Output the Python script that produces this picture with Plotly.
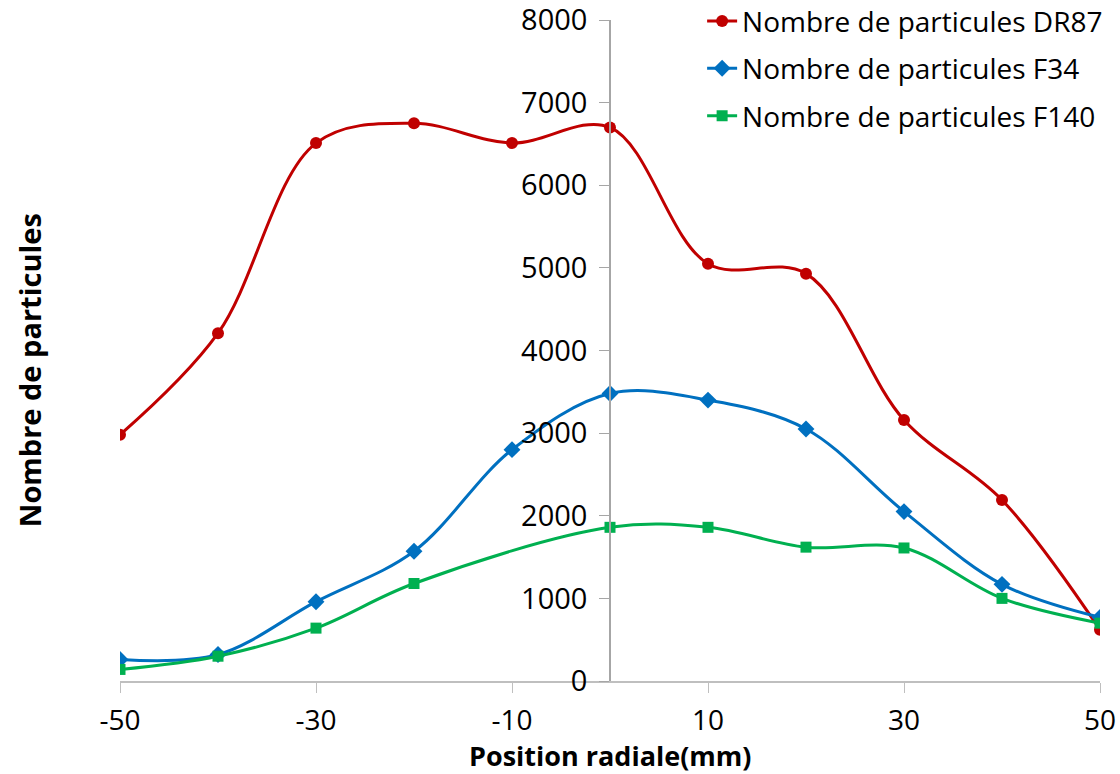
import plotly.graph_objects as go

# Data
positions = [-50, -40, -30, -20, -10, 0, 10, 20, 30, 40, 50]
dr87 = [2980, 4210, 6510, 6750, 6510, 6700, 5050, 4930, 3160, 2190, 620]
f34 = [260, 320, 960, 1570, 2800, 3480, 3400, 3050, 2050, 1170, 770]
# F140 has no point at -10
positions_f140 = [-50, -40, -30, -20, 0, 10, 20, 30, 40, 50]
f140 = [140, 300, 640, 1180, 1860, 1860, 1620, 1610, 1000, 700]

x_ticks = [-50, -30, -10, 10, 30, 50]
x_tick_labels = ['-50', '-30', '-10', '10', '30', '50']

names = ['Nombre de particules DR87', 'Nombre de particules F34', 'Nombre de particules F140']
colors = ['#C00000', '#0070C0', '#00B050']
symbols = ['circle', 'diamond', 'square']
marker_sizes = [12, 13, 11]

font_family = 'Open Sans, Lato, sans-serif'

fig = go.Figure()

series = [(positions, dr87), (positions, f34), (positions_f140, f140)]
for i, ((x, y), name, color, symbol, size) in enumerate(zip(series, names, colors, symbols, marker_sizes)):
    fig.add_trace(
        go.Scatter(x=x,
                   y=y,
                   name=name,
                   legendgroup=f'g{i}',
                   mode='lines+markers',
                   line=dict(color=color, width=3, shape='spline', smoothing=1),
                   marker=dict(symbol=symbol, color=color, size=size),
                   )
        )

fig.update_layout(
    width=1120,
    height=774,
    margin=dict(l=120, r=20, t=20, b=93, autoexpand=False),
    plot_bgcolor='white',
    paper_bgcolor='white',
    font=dict(family=font_family, size=28, color='black'),
    showlegend=True,
    legend=dict(x=0.594, y=1.036, xanchor='left', yanchor='top',
                font=dict(size=28), bgcolor='rgba(0,0,0,0)',
                tracegroupgap=8, itemwidth=30),
)

fig.update_xaxes(
    range=[-50, 50],
    tickvals=x_ticks,
    ticktext=x_tick_labels,
    showgrid=False,
    zeroline=False,
    showline=True,
    linecolor='#BFBFBF',
    linewidth=1.5,
    ticks='outside',
    ticklen=10,
    tickcolor='#BFBFBF',
    tickfont=dict(size=28),
    ticklabelstandoff=4,
    ticklabeloverflow='allow',
    automargin=False,
)

fig.update_yaxes(
    range=[0, 8000],
    dtick=1000,
    showgrid=False,
    zeroline=False,
    showline=True,
    linecolor='#A6A6A6',
    linewidth=1.5,
    ticks='outside',
    ticklen=10,
    tickcolor='#A6A6A6',
    tickfont=dict(size=29),
    ticklabelstandoff=6,
    ticklabeloverflow='allow',
    anchor='free',
    position=0.5,
    automargin=False,
)

fig.add_annotation(
    text='<b>Position radiale(mm)</b>',
    xref='paper', yref='paper',
    x=0.5, y=-0.112, xanchor='center', yanchor='middle',
    showarrow=False, font=dict(size=27),
)
fig.add_annotation(
    text='<b>Nombre de particules</b>',
    xref='paper', yref='paper',
    x=-0.093, y=0.47, xanchor='center', yanchor='middle',
    textangle=-90,
    showarrow=False, font=dict(size=29),
)

# drop the default page margin so the figure sits at the top-left corner
fig.write_html('out.html', config={'displayModeBar': False},
               post_script="document.body.style.margin='0';")
